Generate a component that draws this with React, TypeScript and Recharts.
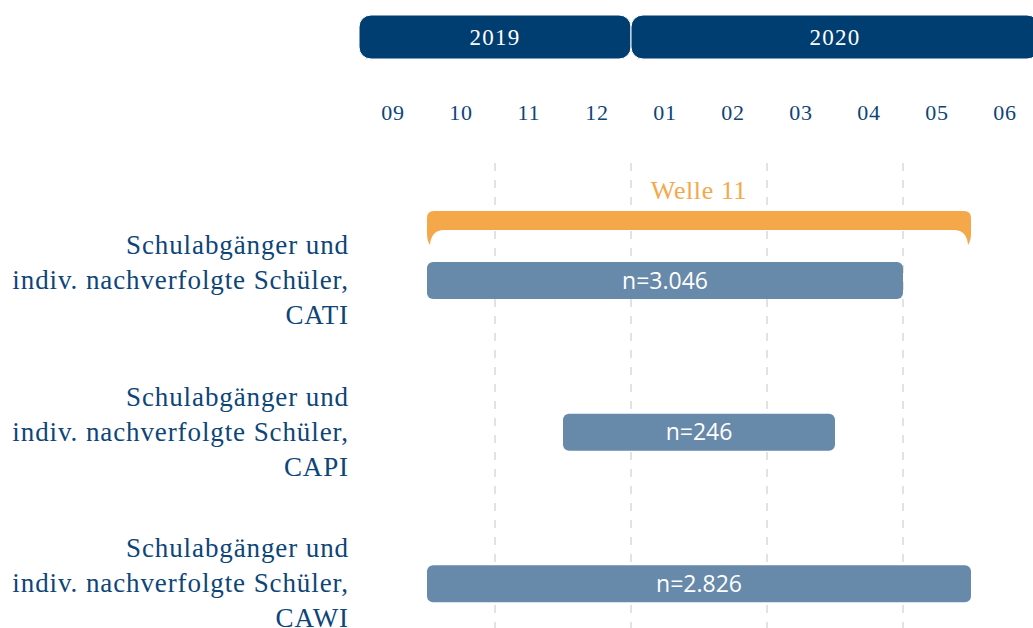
import { BarChart, Bar, XAxis, YAxis, ReferenceArea, LabelList, CartesianGrid } from "recharts";

const months = ["09", "10", "11", "12", "01", "02", "03", "04", "05", "06"];
const years = ["2019", "2020"];
const yearFirstMonth = ["09", "01"];
const yearLastMonth = ["12", "06"];

const modes = ["CATI", "CAPI", "CAWI"];
const groupLines = ["Schulabgänger und", "indiv. nachverfolgte Schüler,"];
const modeStart = ["10", "12", "10"];
const modeEnd = ["04", "03", "05"];
const modeN = ["3.046", "246", "2.826"];

const waveLabel = "Welle 11";
const waveStart = "10";
const waveEnd = "05";

// dashed separators sit after these months
const gridAfter = ["10", "12", "02", "04"];

const BLUE = "#0d4579";
const HEADER = "#003d70";
const BAR = "#6789aa";
const ORANGE = "#f5a84a";
const SERIF = "'Liberation Serif', 'DejaVu Serif', serif";
const SANS = "'Open Sans', 'Noto Sans', sans-serif";

const m = (s: string) => months.indexOf(s);

const rows = modes.map((mode, i) => ({
  mode,
  range: [m(modeStart[i]) - 0.5, m(modeEnd[i]) + 0.5],
  label: `n=${modeN[i]}`,
}));

const headerRow: Record<string, any> = { row: "years" };
years.forEach((yr, i) => {
  headerRow[yr] = [m(yearFirstMonth[i]) - 0.5, m(yearLastMonth[i]) + 0.5];
});

const CHART_W = 1039;
const LEFT = 359;
const DOMAIN: [number, number] = [-0.5, months.length - 0.5];

// grid positions: use the axis scale when recharts hands it over, else map the domain onto the plot
function gridX(p: any) {
  const vals = gridAfter.map((g) => m(g) + 0.5);
  const sc = p?.xAxis?.scale;
  if (typeof sc === "function") return vals.map((v) => sc(v));
  if (sc && typeof sc.map === "function") return vals.map((v) => sc.map(v));
  const { left, width } = p.offset;
  return vals.map((v) => left + ((v - DOMAIN[0]) / (DOMAIN[1] - DOMAIN[0])) * width);
}

function BraceShape(props: any) {
  const { x, y, width } = props;
  const x0 = x;
  const x1 = x + width;
  const t = y + 6;
  const d = [
    `M${x0},${t + 7}`,
    `Q${x0},${t} ${x0 + 7},${t}`,
    `L${x1 - 7},${t}`,
    `Q${x1},${t} ${x1},${t + 7}`,
    `L${x1},${t + 22}`,
    `Q${x1},${t + 30} ${x1 - 3},${t + 34}`,
    `Q${x1 - 4},${t + 20} ${x1 - 16},${t + 19}`,
    `L${x0 + 16},${t + 19}`,
    `Q${x0 + 4},${t + 20} ${x0 + 3},${t + 34}`,
    `Q${x0},${t + 30} ${x0},${t + 22}`,
    "Z",
  ].join(" ");
  return (
    <g>
      <path d={d} fill={ORANGE} />
      <text x={(x0 + x1) / 2} y={t - 12} textAnchor="middle" fill={ORANGE} fontFamily={SERIF} fontSize={26} letterSpacing={0.6}>
        {waveLabel}
      </text>
    </g>
  );
}

function ModeTick(props: any) {
  const { x, y, payload } = props;
  const lines = [...groupLines, payload.value];
  return (
    <text x={x} y={y} textAnchor="end" fill={BLUE} fontFamily={SERIF} fontSize={27} letterSpacing={0.9}>
      {lines.map((l, i) => (
        <tspan key={i} x={x} y={y + (i - 1) * 35 + 8}>
          {l}
        </tspan>
      ))}
    </text>
  );
}

function MonthTick(props: any) {
  const { x, y, payload } = props;
  return (
    <text x={x} y={y} textAnchor="middle" fill={BLUE} fontFamily={SERIF} fontSize={22} letterSpacing={0.8}>
      {months[payload.value]}
    </text>
  );
}

export default function App() {
  return (
    <div style={{ position: "absolute", left: 0, top: 0, width: 1033, height: 628, overflow: "hidden", background: "#fff" }}>
      <div style={{ position: "absolute", left: 0, top: 0 }}>
        <BarChart
          width={CHART_W}
          height={660}
          layout="vertical"
          data={rows}
          margin={{ top: 113, right: 0, bottom: 0, left: 0 }}
        >
          <CartesianGrid
            horizontal={false}
            stroke="#e2e2e2"
            strokeWidth={2}
            strokeDasharray="8 9"
            verticalCoordinatesGenerator={gridX}
          />
          <XAxis
            type="number"
            orientation="top"
            domain={DOMAIN}
            ticks={months.map((_, i) => i)}
            tick={<MonthTick />}
            tickSize={0}
            tickMargin={43}
            axisLine={false}
            tickLine={false}
            height={50}
            interval={0}
          />
          <YAxis
            type="category"
            dataKey="mode"
            width={LEFT}
            tick={<ModeTick />}
            tickSize={0}
            tickMargin={10}
            axisLine={false}
            tickLine={false}
            padding={{ top: 42, bottom: 0 }}
            interval={0}
          />
          <ReferenceArea x1={m(waveStart) - 0.5} x2={m(waveEnd) + 0.5} ifOverflow="visible" shape={BraceShape} />
          <Bar dataKey="range" fill={BAR} barSize={37} radius={6} isAnimationActive={false}>
            <LabelList dataKey="label" position="center" fill="#fff" fontFamily={SANS} fontSize={23} />
          </Bar>
        </BarChart>
      </div>
      <div style={{ position: "absolute", left: 0, top: 0 }}>
        <BarChart
          width={CHART_W}
          height={60}
          layout="vertical"
          data={[headerRow]}
          barGap={-44}
          barCategoryGap={0}
          margin={{ top: 14, right: 0, bottom: 1, left: LEFT }}
        >
          <XAxis type="number" domain={DOMAIN} hide />
          <YAxis type="category" dataKey="row" hide width={0} />
          {years.map((yr) => (
            <Bar key={yr} dataKey={yr} fill={HEADER} stroke="#fff" strokeWidth={1} barSize={44} radius={12} isAnimationActive={false}>
              <LabelList
                position="center"
                formatter={() => yr}
                fill="#fff"
                fontFamily={SERIF}
                fontSize={23}
                letterSpacing={1.2}
              />
            </Bar>
          ))}
        </BarChart>
      </div>
    </div>
  );
}
